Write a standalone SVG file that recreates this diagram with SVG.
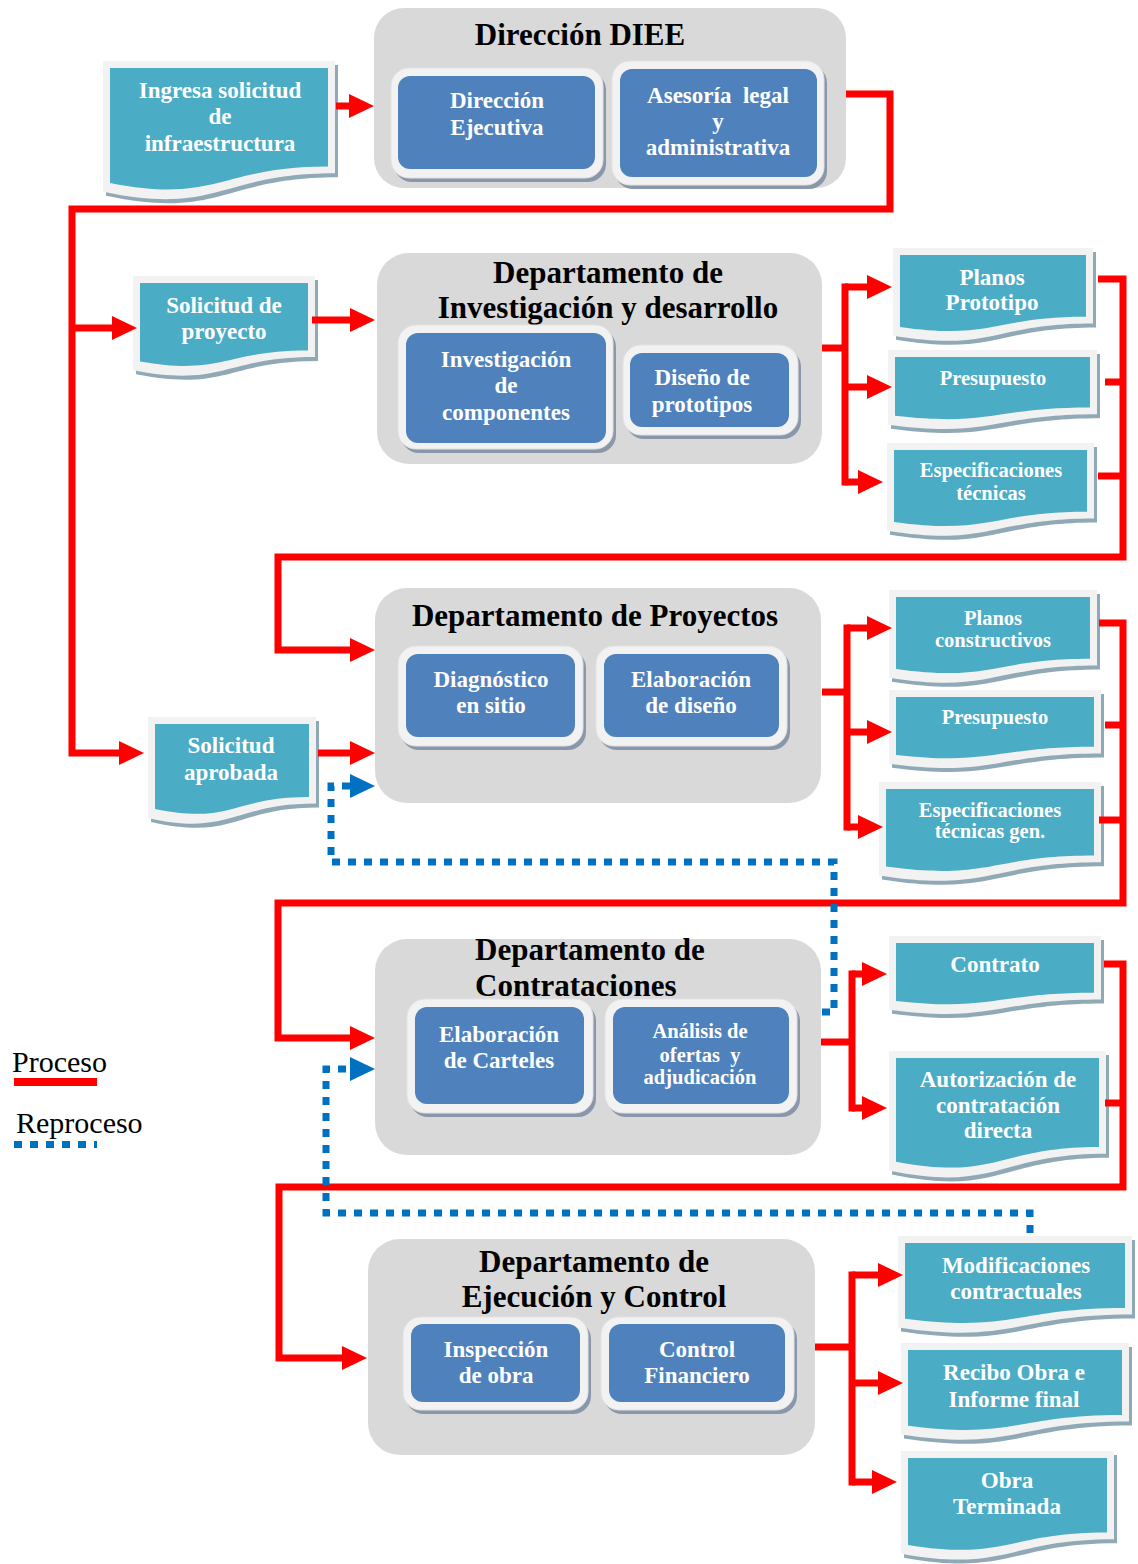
<svg xmlns="http://www.w3.org/2000/svg" width="1138" height="1564" viewBox="0 0 1138 1564">
  <style>
    .grp { fill: #d9d9d9; }
    .ttl { font-family: "Liberation Serif", "Times New Roman", serif; font-weight: bold; font-size: 31px; fill: #000; }
    .bshadow { fill: #8a97aa; }
    .bframe { fill: #f2f2f2; stroke: #e2e2e2; stroke-width: 1; }
    .bfill { fill: #4f81bd; }
    .dshadow { fill: #90a9b6; }
    .dframe { fill: #f2f2f2; }
    .dfill { fill: #4bacc6; }
    .lbl { font-family: "Liberation Serif", "Times New Roman", serif; font-weight: bold; font-size: 23px; fill: #fff; text-anchor: middle; }
    .sm { font-size: 20.5px; }
    .proc { fill: none; stroke: #ff0000; stroke-width: 7; stroke-linejoin: miter; }
    .trunk { stroke-linecap: square; }
    .reproc { fill: none; stroke: #0070c0; stroke-width: 7; stroke-dasharray: 8 8; }
    .leg { font-family: "Liberation Serif", "Times New Roman", serif; font-size: 30px; fill: #000; }
  </style>
  <defs>
    <marker id="arrRed" markerUnits="userSpaceOnUse" markerWidth="25" markerHeight="24" refX="2" refY="12" orient="auto">
      <path d="M0,0 L25,12 L0,24 Z" fill="#ff0000"/>
    </marker>
    <marker id="arrBlue" markerUnits="userSpaceOnUse" markerWidth="25" markerHeight="24" refX="2" refY="12" orient="auto">
      <path d="M0,0 L25,12 L0,24 Z" fill="#0070c0"/>
    </marker>
  </defs>

  <rect width="1138" height="1564" fill="#fff"/>

  <!-- Department containers with their inner units -->
  <g id="direccion-diee">
    <rect class="grp" x="374" y="8" width="472" height="180" rx="30"/>
    <text class="ttl" x="580" y="45" text-anchor="middle">Dirección DIEE</text>
    <g id="direccion-ejecutiva">
      <rect class="bshadow" x="394" y="72" width="212" height="110" rx="18"/>
      <rect class="bframe" x="391" y="68" width="212" height="110" rx="18"/>
      <rect class="bfill" x="398" y="76" width="197" height="93" rx="12"/>
      <text class="lbl" x="497" y="108">Dirección</text>
      <text class="lbl" x="497" y="135">Ejecutiva</text>
    </g>
    <g id="asesoria-legal">
      <rect class="bshadow" x="615" y="65" width="212" height="124" rx="18"/>
      <rect class="bframe" x="612" y="61" width="212" height="124" rx="18"/>
      <rect class="bfill" x="620" y="69" width="197" height="108" rx="12"/>
      <text class="lbl" x="718" y="103" xml:space="preserve">Asesoría  legal</text>
      <text class="lbl" x="718" y="129">y</text>
      <text class="lbl" x="718" y="155">administrativa</text>
    </g>
  </g>

  <g id="depto-investigacion">
    <rect class="grp" x="377" y="253" width="445" height="211" rx="32"/>
    <text class="ttl" x="608" y="283" text-anchor="middle">Departamento de</text>
    <text class="ttl" x="608" y="318" text-anchor="middle">Investigación y desarrollo</text>
    <g id="investigacion-componentes">
      <rect class="bshadow" x="401" y="329" width="215" height="124" rx="18"/>
      <rect class="bframe" x="398" y="325" width="215" height="124" rx="18"/>
      <rect class="bfill" x="406" y="333" width="200" height="110" rx="12"/>
      <text class="lbl" x="506" y="367">Investigación</text>
      <text class="lbl" x="506" y="393">de</text>
      <text class="lbl" x="506" y="420">componentes</text>
    </g>
    <g id="diseno-prototipos">
      <rect class="bshadow" x="626" y="349" width="175" height="90" rx="18"/>
      <rect class="bframe" x="623" y="345" width="175" height="90" rx="18"/>
      <rect class="bfill" x="630" y="353" width="159" height="74" rx="12"/>
      <text class="lbl" x="702" y="385">Diseño de</text>
      <text class="lbl" x="702" y="412">prototipos</text>
    </g>
  </g>

  <g id="depto-proyectos">
    <rect class="grp" x="375" y="588" width="446" height="215" rx="32"/>
    <text class="ttl" x="595" y="626" text-anchor="middle">Departamento de Proyectos</text>
    <g id="diagnostico-sitio">
      <rect class="bshadow" x="401" y="650" width="185" height="100" rx="18"/>
      <rect class="bframe" x="398" y="646" width="185" height="100" rx="18"/>
      <rect class="bfill" x="406" y="654" width="169" height="83" rx="12"/>
      <text class="lbl" x="491" y="687">Diagnóstico</text>
      <text class="lbl" x="491" y="713">en sitio</text>
    </g>
    <g id="elaboracion-diseno">
      <rect class="bshadow" x="599" y="650" width="191" height="100" rx="18"/>
      <rect class="bframe" x="596" y="646" width="191" height="100" rx="18"/>
      <rect class="bfill" x="604" y="654" width="175" height="83" rx="12"/>
      <text class="lbl" x="691" y="687">Elaboración</text>
      <text class="lbl" x="691" y="713">de diseño</text>
    </g>
  </g>

  <g id="depto-contrataciones">
    <rect class="grp" x="375" y="939" width="446" height="216" rx="32"/>
    <text class="ttl" x="475" y="960">Departamento de</text>
    <text class="ttl" x="475" y="996">Contrataciones</text>
    <g id="elaboracion-carteles">
      <rect class="bshadow" x="410" y="1003" width="186" height="114" rx="18"/>
      <rect class="bframe" x="407" y="999" width="186" height="114" rx="18"/>
      <rect class="bfill" x="415" y="1007" width="169" height="97" rx="12"/>
      <text class="lbl" x="499" y="1042">Elaboración</text>
      <text class="lbl" x="499" y="1068">de Carteles</text>
    </g>
    <g id="analisis-ofertas">
      <rect class="bshadow" x="608" y="1003" width="192" height="114" rx="18"/>
      <rect class="bframe" x="605" y="999" width="192" height="114" rx="18"/>
      <rect class="bfill" x="613" y="1007" width="176" height="97" rx="12"/>
      <text class="lbl sm" x="700" y="1038">Análisis de</text>
      <text class="lbl sm" x="700" y="1062" xml:space="preserve">ofertas  y</text>
      <text class="lbl sm" x="700" y="1084">adjudicación</text>
    </g>
  </g>

  <g id="depto-ejecucion">
    <rect class="grp" x="368" y="1239" width="447" height="216" rx="32"/>
    <text class="ttl" x="594" y="1272" text-anchor="middle">Departamento de</text>
    <text class="ttl" x="594" y="1307" text-anchor="middle">Ejecución y Control</text>
    <g id="inspeccion-obra">
      <rect class="bshadow" x="406" y="1321" width="185" height="93" rx="18"/>
      <rect class="bframe" x="403" y="1317" width="185" height="93" rx="18"/>
      <rect class="bfill" x="411" y="1324" width="169" height="78" rx="12"/>
      <text class="lbl" x="496" y="1357">Inspección</text>
      <text class="lbl" x="496" y="1383">de obra</text>
    </g>
    <g id="control-financiero">
      <rect class="bshadow" x="604" y="1321" width="193" height="93" rx="18"/>
      <rect class="bframe" x="601" y="1317" width="193" height="93" rx="18"/>
      <rect class="bfill" x="609" y="1324" width="176" height="78" rx="12"/>
      <text class="lbl" x="697" y="1357">Control</text>
      <text class="lbl" x="697" y="1383">Financiero</text>
    </g>
  </g>

  <!-- Document nodes: shadow, frame and wavy-bottom sheet -->
  <g id="doc-ingresa-solicitud">
    <path class="dshadow" transform="translate(3,4)" d="M103,61 H335 V173.3 C219,173.3 219,216.1 103,191.8 Z"/>
    <path class="dframe" d="M103,61 H335 V173.3 C219,173.3 219,216.1 103,191.8 Z"/>
    <path class="dfill" d="M110,68 H328 V166.6 C219,166.6 219,204.2 110,182.9 Z"/>
    <text class="lbl" x="220" y="98">Ingresa solicitud</text>
    <text class="lbl" x="220" y="124">de</text>
    <text class="lbl" x="220" y="151">infraestructura</text>
  </g>

  <g id="doc-solicitud-proyecto">
    <path class="dshadow" transform="translate(3,4)" d="M133,276 H315 V357 C224,357 224,387.9 133,370.3 Z"/>
    <path class="dframe" d="M133,276 H315 V357 C224,357 224,387.9 133,370.3 Z"/>
    <path class="dfill" d="M140,283 H308 V350.4 C224,350.4 224,376 140,361.5 Z"/>
    <text class="lbl" x="224" y="313">Solicitud de</text>
    <text class="lbl" x="224" y="339">proyecto</text>
  </g>

  <g id="doc-solicitud-aprobada">
    <path class="dshadow" transform="translate(3,4)" d="M148,717 H316 V803.6 C232,803.6 232,836.6 148,817.9 Z"/>
    <path class="dframe" d="M148,717 H316 V803.6 C232,803.6 232,836.6 148,817.9 Z"/>
    <path class="dfill" d="M155,724 H309 V797 C232,797 232,824.8 155,809 Z"/>
    <text class="lbl" x="231" y="753">Solicitud</text>
    <text class="lbl" x="231" y="780">aprobada</text>
  </g>

  <g id="doc-planos-prototipo">
    <path class="dshadow" transform="translate(3,4)" d="M893,248 H1093 V323.4 C993,323.4 993,352.1 893,335.8 Z"/>
    <path class="dframe" d="M893,248 H1093 V323.4 C993,323.4 993,352.1 893,335.8 Z"/>
    <path class="dfill" d="M900,255 H1086 V316.8 C993,316.8 993,340.3 900,326.9 Z"/>
    <text class="lbl" x="992" y="285" font-size="22.5">Planos</text>
    <text class="lbl" x="992" y="310" font-size="22.5">Prototipo</text>
  </g>

  <g id="doc-presupuesto-1">
    <path class="dshadow" transform="translate(3,4)" d="M888,350 H1097 V414.2 C992.5,414.2 992.5,438.6 888,424.7 Z"/>
    <path class="dframe" d="M888,350 H1097 V414.2 C992.5,414.2 992.5,438.6 888,424.7 Z"/>
    <path class="dfill" d="M895,357 H1090 V407.5 C992.5,407.5 992.5,426.8 895,415.8 Z"/>
    <text class="lbl sm" x="993" y="385">Presupuesto</text>
  </g>

  <g id="doc-especificaciones-1">
    <path class="dshadow" transform="translate(3,4)" d="M887,443 H1094 V518.4 C990.5,518.4 990.5,547.1 887,530.8 Z"/>
    <path class="dframe" d="M887,443 H1094 V518.4 C990.5,518.4 990.5,547.1 887,530.8 Z"/>
    <path class="dfill" d="M894,450 H1087 V511.8 C990.5,511.8 990.5,535.3 894,521.9 Z"/>
    <text class="lbl sm" x="991" y="477">Especificaciones</text>
    <text class="lbl sm" x="991" y="500">técnicas</text>
  </g>

  <g id="doc-planos-constructivos">
    <path class="dshadow" transform="translate(3,4)" d="M889,590 H1097 V665.4 C993,665.4 993,694.1 889,677.8 Z"/>
    <path class="dframe" d="M889,590 H1097 V665.4 C993,665.4 993,694.1 889,677.8 Z"/>
    <path class="dfill" d="M896,597 H1090 V658.8 C993,658.8 993,682.3 896,668.9 Z"/>
    <text class="lbl sm" x="993" y="625">Planos</text>
    <text class="lbl sm" x="993" y="647">constructivos</text>
  </g>

  <g id="doc-presupuesto-2">
    <path class="dshadow" transform="translate(3,4)" d="M889,690 H1101 V753.4 C995,753.4 995,777.5 889,763.8 Z"/>
    <path class="dframe" d="M889,690 H1101 V753.4 C995,753.4 995,777.5 889,763.8 Z"/>
    <path class="dfill" d="M896,697 H1094 V746.7 C995,746.7 995,765.7 896,754.9 Z"/>
    <text class="lbl sm" x="995" y="724">Presupuesto</text>
  </g>

  <g id="doc-especificaciones-2">
    <path class="dshadow" transform="translate(3,4)" d="M879,782 H1101 V862.2 C990,862.2 990,892.8 879,875.4 Z"/>
    <path class="dframe" d="M879,782 H1101 V862.2 C990,862.2 990,892.8 879,875.4 Z"/>
    <path class="dfill" d="M886,789 H1094 V855.6 C990,855.6 990,880.9 886,866.5 Z"/>
    <text class="lbl sm" x="990" y="817">Especificaciones</text>
    <text class="lbl sm" x="990" y="838">técnicas gen.</text>
  </g>

  <g id="doc-contrato">
    <path class="dshadow" transform="translate(3,4)" d="M889,936 H1101 V999.4 C995,999.4 995,1023.5 889,1009.8 Z"/>
    <path class="dframe" d="M889,936 H1101 V999.4 C995,999.4 995,1023.5 889,1009.8 Z"/>
    <path class="dfill" d="M896,943 H1094 V992.7 C995,992.7 995,1011.7 896,1000.9 Z"/>
    <text class="lbl" x="995" y="972" font-size="22">Contrato</text>
  </g>

  <g id="doc-autorizacion">
    <path class="dshadow" transform="translate(3,4)" d="M889,1051 H1106 V1153.7 C997.5,1153.7 997.5,1192.8 889,1170.6 Z"/>
    <path class="dframe" d="M889,1051 H1106 V1153.7 C997.5,1153.7 997.5,1192.8 889,1170.6 Z"/>
    <path class="dfill" d="M896,1058 H1099 V1147 C997.5,1147 997.5,1180.9 896,1161.7 Z"/>
    <text class="lbl" x="998" y="1087">Autorización de</text>
    <text class="lbl" x="998" y="1113">contratación</text>
    <text class="lbl" x="998" y="1138">directa</text>
  </g>

  <g id="doc-modificaciones">
    <path class="dshadow" transform="translate(3,4)" d="M898,1236 H1132 V1314.6 C1015,1314.6 1015,1344.5 898,1327.5 Z"/>
    <path class="dframe" d="M898,1236 H1132 V1314.6 C1015,1314.6 1015,1344.5 898,1327.5 Z"/>
    <path class="dfill" d="M905,1243 H1125 V1308 C1015,1308 1015,1332.7 905,1318.7 Z"/>
    <text class="lbl" x="1016" y="1273">Modificaciones</text>
    <text class="lbl" x="1016" y="1299">contractuales</text>
  </g>

  <g id="doc-recibo-obra">
    <path class="dshadow" transform="translate(3,4)" d="M901,1343 H1129 V1421.6 C1015,1421.6 1015,1451.5 901,1434.5 Z"/>
    <path class="dframe" d="M901,1343 H1129 V1421.6 C1015,1421.6 1015,1451.5 901,1434.5 Z"/>
    <path class="dfill" d="M908,1350 H1122 V1415 C1015,1415 1015,1439.7 908,1425.7 Z"/>
    <text class="lbl" x="1014" y="1380">Recibo Obra e</text>
    <text class="lbl" x="1014" y="1407">Informe final</text>
  </g>

  <g id="doc-obra-terminada">
    <path class="dshadow" transform="translate(3,4)" d="M901,1451 H1114 V1539.2 C1007.5,1539.2 1007.5,1572.8 901,1553.7 Z"/>
    <path class="dframe" d="M901,1451 H1114 V1539.2 C1007.5,1539.2 1007.5,1572.8 901,1553.7 Z"/>
    <path class="dfill" d="M908,1458 H1107 V1532.6 C1007.5,1532.6 1007.5,1561 908,1544.9 Z"/>
    <text class="lbl" x="1007" y="1488">Obra</text>
    <text class="lbl" x="1007" y="1514">Terminada</text>
  </g>

  <!-- Process flow (red) and rework loops (blue dotted) -->
  <g id="connectors">
    <path class="proc" d="M336,106 H351" marker-end="url(#arrRed)"/>
    <path class="proc" d="M846,94 H890 V209 H72 V753 H121" marker-end="url(#arrRed)"/>
    <path class="proc" d="M72,328 H114" marker-end="url(#arrRed)"/>
    <path class="proc" d="M312,320 H352" marker-end="url(#arrRed)"/>

    <!-- fan-out to the R&D deliverables -->
    <path class="proc" d="M822,348 H845"/>
    <path class="proc trunk" d="M845,287 V482"/>
    <path class="proc" d="M845,287 H869" marker-end="url(#arrRed)"/>
    <path class="proc" d="M845,387 H869" marker-end="url(#arrRed)"/>
    <path class="proc" d="M845,482 H860" marker-end="url(#arrRed)"/>
    <path class="proc" d="M1098,279 H1123 V557 H278 V650 H352" marker-end="url(#arrRed)"/>
    <path class="proc" d="M1105,382 H1123"/>
    <path class="proc" d="M1098,476 H1123"/>

    <path class="proc" d="M318,753 H352" marker-end="url(#arrRed)"/>

    <!-- fan-out to the project deliverables -->
    <path class="proc" d="M822,692 H847"/>
    <path class="proc trunk" d="M847,628 V827"/>
    <path class="proc" d="M847,628 H869" marker-end="url(#arrRed)"/>
    <path class="proc" d="M847,732 H869" marker-end="url(#arrRed)"/>
    <path class="proc" d="M847,827 H860" marker-end="url(#arrRed)"/>
    <path class="proc" d="M1099,623 H1123 V903 H278 V1038 H352" marker-end="url(#arrRed)"/>
    <path class="proc" d="M1105,725 H1123"/>
    <path class="proc" d="M1099,820 H1123"/>

    <!-- fan-out to the contracting deliverables -->
    <path class="proc" d="M821,1042 H852"/>
    <path class="proc trunk" d="M852,974 V1108"/>
    <path class="proc" d="M852,974 H864" marker-end="url(#arrRed)"/>
    <path class="proc" d="M852,1108 H864" marker-end="url(#arrRed)"/>
    <path class="proc" d="M1104,964 H1123 V1187 H279 V1358 H344" marker-end="url(#arrRed)"/>
    <path class="proc" d="M1105,1103 H1123"/>

    <!-- fan-out to the execution deliverables -->
    <path class="proc" d="M815,1347 H852"/>
    <path class="proc trunk" d="M852,1275 V1482"/>
    <path class="proc" d="M852,1275 H880" marker-end="url(#arrRed)"/>
    <path class="proc" d="M852,1383 H880" marker-end="url(#arrRed)"/>
    <path class="proc" d="M852,1482 H874" marker-end="url(#arrRed)"/>

    <path class="reproc" d="M822,1012 H834 V862 H331 V786 H352" marker-end="url(#arrBlue)"/>
    <path class="reproc" d="M1030,1233 V1213 H326 V1069 H352" marker-end="url(#arrBlue)"/>
  </g>

  <!-- Legend -->
  <g id="legend">
    <text class="leg" x="12" y="1072">Proceso</text>
    <rect x="14" y="1078" width="83" height="8" fill="#ff0000"/>
    <text class="leg" x="16" y="1133">Reproceso</text>
    <path class="reproc" d="M14,1144.5 H97"/>
  </g>
</svg>
